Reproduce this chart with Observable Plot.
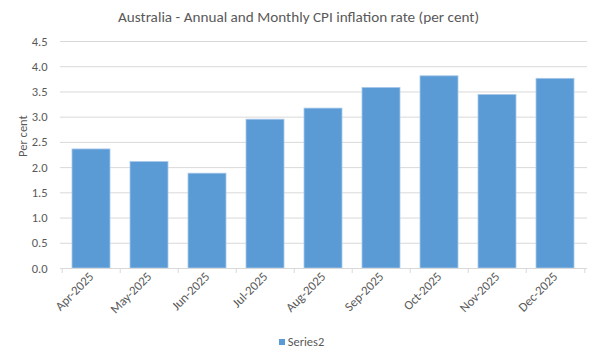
<!DOCTYPE html>
<html>
<head>
<meta charset="utf-8">
<script src="https://cdn.jsdelivr.net/npm/d3@7"></script>
<script src="https://cdn.jsdelivr.net/npm/@observablehq/plot@0.6"></script>
<style>
  html, body { margin: 0; padding: 0; background: #fff; }
  #wrap { position: relative; width: 600px; height: 361px; overflow: hidden; font-family: Carlito, Lato, sans-serif; color: #595959; }
  #title { position: absolute; left: 0; top: 7px; width: 597px; text-align: center; font-size: 15.2px; line-height: 20px; }
  #chart { position: absolute; left: 0; top: 30px; }
  #legend { position: absolute; left: 0; top: 333px; width: 603px; text-align: center; font-size: 12.5px; line-height: 18px; }
  #legend .sw { display: inline-block; width: 6px; height: 6px; background: #5B9BD5; margin-right: 3px; vertical-align: 1px; }
</style>
</head>
<body>
<div id="wrap">
  <div id="title">Australia - Annual and Monthly CPI inflation rate (per cent)</div>
  <div id="chart"></div>
  <div id="legend"><span class="sw"></span>Series2</div>
</div>
<script>
const months = ["Apr-2025","May-2025","Jun-2025","Jul-2025","Aug-2025","Sep-2025","Oct-2025","Nov-2025","Dec-2025"];
const series2 = [2.36, 2.11, 1.88, 2.95, 3.17, 3.58, 3.81, 3.44, 3.76];
const yTicks = [0, 0.5, 1, 1.5, 2, 2.5, 3, 3.5, 4, 4.5];
const seriesName = "Series2";
const yLabel = "Per cent";

const data = months.map((m, i) => ({month: m, value: series2[i]}));

const W = 600, H = 310, mL = 60, mR = 13, mT = 11, mB = 72;
const step = (W - mL - mR) / months.length;
const grey = "#595959", gridC = "#d9d9d9", blue = "#5B9BD5";

const chart = Plot.plot({
  width: W, height: H,
  marginLeft: mL, marginRight: mR, marginTop: mT, marginBottom: mB,
  style: {fontFamily: "Carlito, Lato, sans-serif", color: grey, background: "#fff"},
  x: {type: "band", domain: months, paddingInner: 0.34, paddingOuter: 0.17},
  y: {domain: [0, 4.5]},
  marks: [
    Plot.gridY(yTicks, {stroke: gridC, strokeOpacity: 1, strokeWidth: 1}),
    Plot.barY(data, {x: "month", y: "value", fill: blue, stroke: "#a9c8ea", strokeWidth: 0.8}),
    Plot.ruleY([0], {stroke: gridC, strokeWidth: 1}),
    Plot.ruleX(months, {x: d => d, y1: 0, y2: 0, insetBottom: -5, dx: -step / 2, stroke: gridC}),
    Plot.ruleX(months.slice(-1), {x: d => d, y1: 0, y2: 0, insetBottom: -5, dx: step / 2, stroke: gridC}),
    Plot.axisY(yTicks, {tickSize: 0, tickPadding: 13, tickFormat: d => d.toFixed(1), fontSize: 12.5, fill: grey, label: null}),
    Plot.axisX({tickSize: 0, tickRotate: -45, tickPadding: 6, fontSize: 12.8, fill: grey, label: null}),
    Plot.text([yLabel], {frameAnchor: "left", dx: -38, dy: 2, rotate: -90, fontSize: 12.5, fill: grey, text: d => d})
  ]
});
document.getElementById("chart").appendChild(chart);
</script>
</body>
</html>
